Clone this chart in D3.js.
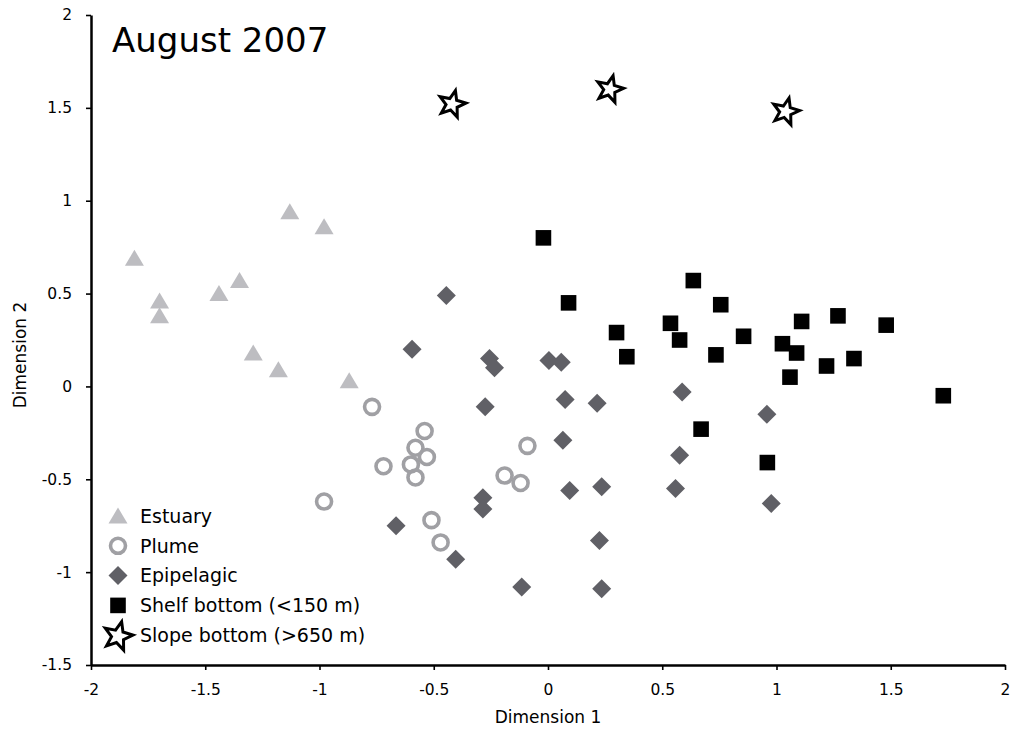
<!DOCTYPE html>
<html><head><meta charset="utf-8">
<script src="https://cdn.jsdelivr.net/npm/d3@7"></script>
<style>body{margin:0;background:#fff;} svg{display:block;} text{font-family:"DejaVu Sans",Verdana,sans-serif;}</style>
</head><body><svg id="c" width="1013" height="731"></svg>
<script>
const title = "August 2007";
const xTicks = [-2,-1.5,-1,-0.5,0,0.5,1,1.5,2];
const yTicks = [-1.5,-1,-0.5,0,0.5,1,1.5,2];
const legendLabels = ["Estuary","Plume","Epipelagic","Shelf bottom (<150 m)","Slope bottom (>650 m)"];

const estuaryX = [-1.81,-1.70,-1.70,-1.44,-1.35,-1.13,-0.98,-1.29,-1.18,-0.87];
const estuaryY = [0.69,0.46,0.38,0.50,0.57,0.94,0.86,0.18,0.09,0.03];

const plumeX = [-0.77,-0.54,-0.58,-0.53,-0.60,-0.58,-0.72,-0.98,-0.09,-0.19,-0.12,-0.51,-0.47];
const plumeY = [-0.11,-0.24,-0.33,-0.38,-0.42,-0.49,-0.43,-0.62,-0.32,-0.48,-0.52,-0.72,-0.84];

const epiX = [-0.445,-0.595,-0.256,-0.234,0.004,0.058,-0.275,0.075,0.215,0.065,0.095,0.235,-0.285,-0.285,-0.665,-0.404,0.225,-0.115,0.235,0.587,0.958,0.576,0.558,0.977];
const epiY = [0.49,0.20,0.15,0.10,0.14,0.13,-0.11,-0.07,-0.09,-0.29,-0.56,-0.54,-0.60,-0.66,-0.75,-0.93,-0.83,-1.08,-1.09,-0.03,-0.15,-0.37,-0.55,-0.63];

const shelfX = [-0.02,0.09,0.30,0.345,0.636,0.756,0.536,0.576,0.856,0.735,1.026,1.088,1.110,1.269,1.480,1.219,1.339,1.059,1.730,0.670,0.960];
const shelfY = [0.80,0.45,0.29,0.16,0.57,0.44,0.34,0.25,0.27,0.17,0.23,0.18,0.35,0.38,0.33,0.11,0.15,0.05,-0.05,-0.23,-0.41];

const slopeX = [-0.42,0.27,1.04];
const slopeY = [1.52,1.60,1.48];

const svg = d3.select("#c");
const x = d3.scaleLinear().domain([-2,2]).range([91,1005]);
const y = d3.scaleLinear().domain([-1.5,2]).range([665,15]);

function triPath(){ return "M0,-8.5L9.5,7.5L-9.5,7.5Z"; }
function diamondPath(){ return "M0,-9.5L9.5,0L0,9.5L-9.5,0Z"; }
function starPath(R, r){
  let p=[];
  for(let i=0;i<10;i++){
    const a = -Math.PI/2 + i*Math.PI/5;
    const rad = i%2===0 ? R : r;
    p.push([rad*Math.cos(a), rad*Math.sin(a)]);
  }
  return "M"+p.map(d=>d[0].toFixed(2)+","+d[1].toFixed(2)).join("L")+"Z";
}

const cTri="#bdbdc1", cCirc="#a0a0a4", cDia="#606066";

const xAxis = d3.axisBottom(x).tickValues(xTicks).tickSize(5).tickSizeOuter(0).tickFormat(d=>String(d));
const gx = svg.append("g").attr("transform","translate(0,665)").call(xAxis);
gx.select(".domain").attr("stroke","#000").attr("stroke-width",2.5);
gx.selectAll(".tick line").attr("stroke","#000").attr("stroke-width",1.6);
gx.selectAll(".tick text").attr("font-size",15.5).attr("fill","#000").attr("y",19).attr("dy","0.71em");

const yAxis = d3.axisLeft(y).tickValues(yTicks).tickSize(5).tickSizeOuter(0).tickFormat(d=>String(d));
const gy = svg.append("g").attr("transform","translate(91,0)").call(yAxis);
gy.select(".domain").attr("stroke","#000").attr("stroke-width",2.5);
gy.selectAll(".tick line").attr("stroke","#000").attr("stroke-width",1.6);
gy.selectAll(".tick text").attr("font-size",15.5).attr("fill","#000").attr("x",-19);

svg.append("text").attr("x",548).attr("y",723).attr("text-anchor","middle").attr("font-size",17).text("Dimension 1");
svg.append("text").attr("transform","translate(26,355) rotate(-90)").attr("text-anchor","middle").attr("font-size",17).text("Dimension 2");
svg.append("text").attr("x",112).attr("y",52).attr("font-size",34).text(title);

const g = svg.append("g");
g.selectAll(".tri").data(d3.zip(estuaryX,estuaryY)).join("path")
  .attr("d",triPath()).attr("fill",cTri)
  .attr("transform",d=>`translate(${x(d[0])},${y(d[1])})`);
g.selectAll(".circ").data(d3.zip(plumeX,plumeY)).join("circle")
  .attr("cx",d=>x(d[0])).attr("cy",d=>y(d[1])).attr("r",7.5)
  .attr("fill","none").attr("stroke",cCirc).attr("stroke-width",3.6);
g.selectAll(".dia").data(d3.zip(epiX,epiY)).join("path")
  .attr("d",diamondPath()).attr("fill",cDia)
  .attr("transform",d=>`translate(${x(d[0])},${y(d[1])})`);
g.selectAll(".sq").data(d3.zip(shelfX,shelfY)).join("rect")
  .attr("x",d=>x(d[0])-7.8).attr("y",d=>y(d[1])-7.8).attr("width",15.6).attr("height",15.6)
  .attr("fill","#000");
g.selectAll(".star").data(d3.zip(slopeX,slopeY)).join("path")
  .attr("d",starPath(14,6)).attr("fill","#fff").attr("stroke","#000").attr("stroke-width",3)
  .attr("transform",d=>`translate(${x(d[0])},${y(d[1])}) rotate(14)`);

const lg = svg.append("g");
const ly0 = 516, ldy = 29.8, lmx = 118, ltx = 140;
legendLabels.forEach((lab,i)=>{
  const yy = ly0 + i*ldy;
  if(i===0) lg.append("path").attr("d",triPath()).attr("fill",cTri).attr("transform",`translate(${lmx},${yy})`);
  if(i===1) lg.append("circle").attr("cx",lmx).attr("cy",yy).attr("r",7.5).attr("fill","none").attr("stroke",cCirc).attr("stroke-width",3.6);
  if(i===2) lg.append("path").attr("d",diamondPath()).attr("fill",cDia).attr("transform",`translate(${lmx},${yy})`);
  if(i===3) lg.append("rect").attr("x",lmx-7.8).attr("y",yy-7.8).attr("width",15.6).attr("height",15.6).attr("fill","#000");
  if(i===4) lg.append("path").attr("d",starPath(15,6.5)).attr("fill","#fff").attr("stroke","#000").attr("stroke-width",3).attr("transform",`translate(${lmx},${yy+1}) rotate(14)`);
  lg.append("text").attr("x",ltx).attr("y",yy).attr("dy","0.36em").attr("font-size",19).text(lab);
});
</script></body></html>
